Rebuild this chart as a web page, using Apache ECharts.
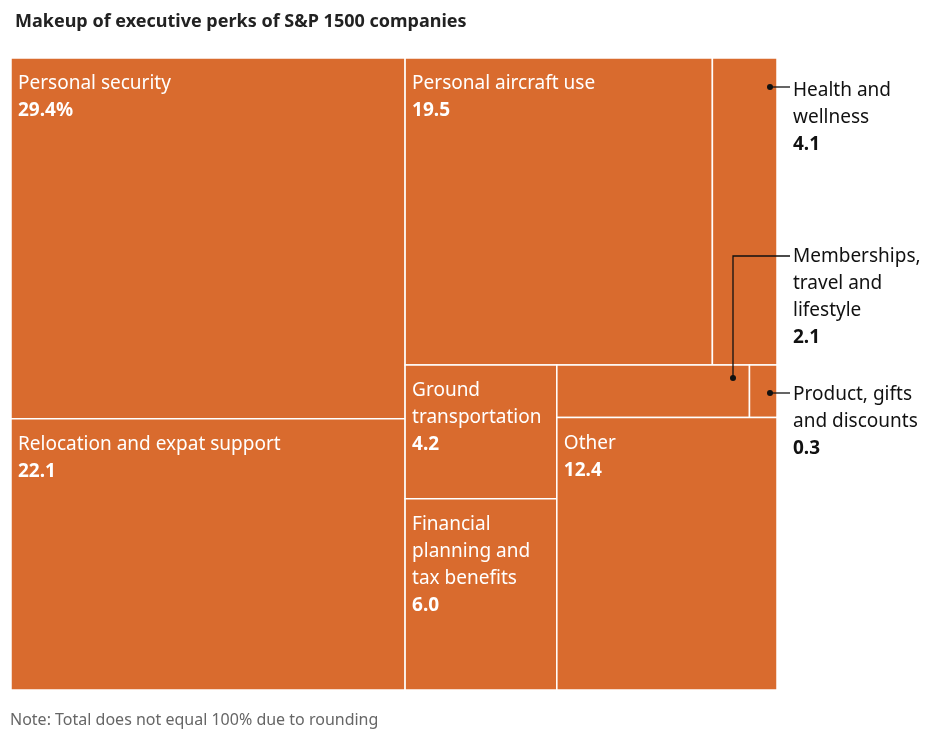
<!DOCTYPE html>
<html>
<head>
<meta charset="utf-8">
<script src="https://cdn.jsdelivr.net/npm/echarts@6/dist/echarts.min.js"></script>
<style>
  html, body { margin: 0; padding: 0; background: #fff; }
  #main { width: 943px; height: 735px; }
</style>
</head>
<body>
<div id="main"></div>
<script>
var FONT = "'Noto Sans', Lato, sans-serif";
var ORANGE = "#d96b2e";

// leaf names, display labels and values (% of perks)
var names = ["Personal security", "Relocation and expat support", "Personal aircraft use",
    "Health and wellness", "Ground transportation", "Financial planning and tax benefits",
    "Memberships, travel and lifestyle", "Product, gifts and discounts", "Other"];
var labels = ["Personal security", "Relocation and expat support", "Personal aircraft use",
    "", "Ground\ntransportation", "Financial\nplanning and\ntax benefits", "", "", "Other"];
var values = [29.4, 22.1, 19.5, 4.1, 4.2, 6.0, 2.1, 0.3, 12.4];
var valueText = ["29.4%", "22.1", "19.5", "4.1", "4.2", "6.0", "2.1", "0.3", "12.4"];

// nesting of the layout: h = side by side, v = stacked
var tree = { dir: "h", kids: [
    { dir: "v", kids: [0, 1] },
    { dir: "v", kids: [
        { dir: "h", kids: [2, 3] },
        { dir: "h", kids: [
            { dir: "v", kids: [4, 5] },
            { dir: "v", kids: [{ dir: "h", kids: [6, 7] }, 8] }
        ] }
    ] }
] };

function total(n) {
    if (typeof n === "number") return values[n];
    var s = 0;
    for (var i in n.kids) s += total(n.kids[i]);
    return s;
}
// slice layout in unit square, rects in data units
var rects = [];
function layout(n, x, y, w, h) {
    if (typeof n === "number") { rects[n] = [x, y, w, h]; return; }
    var s = total(n), pos = 0;
    for (var i in n.kids) {
        var f = total(n.kids[i]) / s;
        if (n.dir === "h") layout(n.kids[i], x + pos * w, y, f * w, h);
        else layout(n.kids[i], x, y + pos * h, w, f * h);
        pos += f;
    }
}
layout(tree, 0, 0, 1, 1);

var seriesData = [];
for (var i = 0; i < names.length; i++) {
    seriesData.push({ name: names[i], value: rects[i].concat([i]) });
}

var chart = echarts.init(document.getElementById("main"));

var txt = function (x, y, text, bold) {
    return { type: "text", z: 100, left: x, top: y, style: { text: text, font: (bold ? "bold " : "") + "19px " + FONT, fill: "#111", lineHeight: 27 } };
};
var ln = function (pts) {
    return { type: "polyline", z: 100, shape: { points: pts }, style: { stroke: "#111", lineWidth: 1.3, fill: null } };
};
var dot = function (x, y) {
    return { type: "circle", z: 101, shape: { cx: x, cy: y, r: 3 }, style: { fill: "#111" } };
};

chart.setOption({
    animation: false,
    title: {
        text: "Makeup of executive perks of S&P 1500 companies",
        left: 10, top: 8,
        textStyle: { fontFamily: FONT, fontSize: 18, fontWeight: "bold", color: "#222" }
    },
    grid: { left: 11, top: 58, width: 766, height: 632 },
    xAxis: { type: "value", min: 0, max: 1, show: false },
    yAxis: { type: "value", min: 0, max: 1, inverse: true, show: false },
    graphic: [
        { type: "text", left: 10, top: 712, style: { text: "Note: Total does not equal 100% due to rounding", font: "16px " + FONT, fill: "#666" } },
        txt(793, 77, "Health and\nwellness"), txt(793, 131, "4.1", true),
        ln([[770, 87], [790, 87]]), dot(770, 87),
        txt(793, 243, "Memberships,\ntravel and\nlifestyle"), txt(793, 324, "2.1", true),
        ln([[733, 378], [733, 256], [790, 256]]), dot(733, 378),
        txt(793, 381, "Product, gifts\nand discounts"), txt(793, 435, "0.3", true),
        ln([[770, 393], [790, 393]]), dot(770, 393)
    ],
    series: [{
        type: "custom",
        data: seriesData,
        renderItem: function (params, api) {
            var p0 = api.coord([api.value(0), api.value(1)]);
            var p1 = api.coord([api.value(0) + api.value(2), api.value(1) + api.value(3)]);
            var idx = api.value(4);
            var children = [{
                type: "rect",
                shape: { x: p0[0], y: p0[1], width: p1[0] - p0[0], height: p1[1] - p0[1] },
                style: { fill: ORANGE, stroke: "#fff", lineWidth: 1.5 }
            }];
            if (labels[idx] !== "") {
                children.push({
                    type: "text",
                    x: p0[0] + 7, y: p0[1] + 12,
                    style: {
                        text: "{n|" + labels[idx].split("\n").join("}\n{n|") + "}\n{v|" + valueText[idx] + "}",
                        rich: {
                            n: { fontFamily: FONT, fontSize: 19, fill: "#fff", lineHeight: 27 },
                            v: { fontFamily: FONT, fontSize: 19, fontWeight: "bold", fill: "#fff", lineHeight: 27 }
                        }
                    }
                });
            }
            return { type: "group", children: children };
        }
    }]
});
</script>
</body>
</html>
